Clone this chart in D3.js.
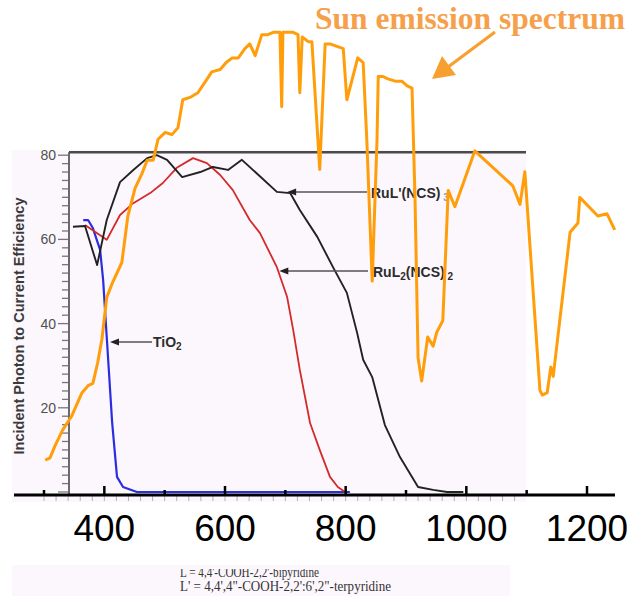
<!DOCTYPE html>
<html><head><meta charset="utf-8">
<script src="https://cdn.jsdelivr.net/npm/d3@7"></script>
<style>html,body{margin:0;padding:0;background:#fff;} svg{display:block;}</style>
</head><body>
<script>
// ---------- DATA ----------
// Sun emission spectrum (wavelength nm, relative irradiance a.u.)
const sunNm  = [302,310,318,331,346,363,373,381,389,396,404,413,429,439,451,462,471,481,489,
                501,512,522,530,542,555,568,578,592,602,612,622,633,641,650,661,671,680,691,694,696,
                713,721,724,728,738,744,757,766,774,796,802,820,829,835,844,852,854,862,870,882,893,902,910,
                915,920,926,936,945,951,961,970,981,1014,1077,1089,1097,1122,1126,1134,1140,1144,1172,1185,1188,1218,1233,1246];
const sunIrr = [0.15,0.16,0.21,0.28,0.34,0.44,0.47,0.48,0.57,0.67,0.85,0.91,1.00,1.20,1.32,1.38,1.44,1.44,1.53,
                1.56,1.55,1.58,1.70,1.71,1.73,1.78,1.82,1.83,1.86,1.88,1.88,1.92,1.94,1.89,1.98,1.98,1.99,1.99,1.67,1.99,
                1.99,1.98,1.73,1.97,1.95,1.95,1.40,1.94,1.94,1.92,1.70,1.88,1.86,1.53,0.92,1.53,1.80,1.80,1.79,1.78,1.78,1.76,1.75,
                1.27,0.59,0.49,0.68,0.64,0.70,0.75,1.31,1.24,1.48,1.33,1.25,1.39,0.45,0.43,0.44,0.55,0.51,1.13,1.17,1.28,1.20,1.21,1.14];

// IPCE curves (wavelength nm, IPCE %)
const tio2Nm   = [365,373,381,393,398,404,413,421,431,454,807];
const tio2Ipce = [64.6,64.6,62.7,57.5,50.4,36.8,16.4,3.6,1.2,0,0];

const ruL2Nm   = [368,404,426,448,476,497,520,547,570,592,613,641,658,686,703,713,724,741,757,774,787,799];
const ruL2Ipce = [63.4,59.9,65.8,68.6,71,73.4,77,79.3,78.1,75.3,71.7,64.6,61.5,53.4,46.3,38.5,29,16.4,10,3.6,1.2,0];

const ruLpNm   = [348,368,388,404,426,448,471,487,504,529,559,580,605,628,686,708,724,753,779,802,819,829,844,865,890,920,945,968,995];
const ruLpIpce = [63,63.2,53.9,64.6,73.6,76.5,79.3,80,78.9,74.8,76,77.2,76.5,78.9,71.3,71,67,60.6,53.4,47.3,37.8,31.4,27.3,15.9,8.3,1.2,0.5,0,0];

const xTicks      = [300,400,500,600,700,800,900,1000,1100,1200];
const xTickLabels = [400,600,800,1000,1200];
const yTickLabels = [20,40,60,80];

// ---------- SETUP ----------
const W=632,H=596;
const svg=d3.select("body").append("svg").attr("width",W).attr("height",H);
const x=d3.scaleLinear().domain([300,1200]).range([44,587]);
const y=d3.scaleLinear().domain([0,80]).range([492,155.2]);
const ySun=d3.scaleLinear().domain([0,2]).range([495,30]);
const SANS="'Liberation Sans', Arial, sans-serif";
const SERIF="'Liberation Serif', 'Times New Roman', serif";

const defs=svg.append("defs");
defs.append("clipPath").attr("id","panel").append("rect").attr("x",12).attr("y",150).attr("width",514).attr("height",352);
defs.append("clipPath").attr("id","cap").append("rect").attr("x",12).attr("y",569).attr("width",500).attr("height",30);

// background panels
svg.append("rect").attr("x",12).attr("y",150).attr("width",514).attr("height",352).attr("fill","#fcf7fc");
svg.append("rect").attr("x",12).attr("y",565).attr("width",498).attr("height",31).attr("fill","#fcf7fc");

const inner=svg.append("g").attr("clip-path","url(#panel)");

// y axis (inner chart)
inner.append("line").attr("x1",69).attr("x2",69).attr("y1",y(80.7)).attr("y2",496)
  .attr("stroke","#6a6a6a").attr("stroke-width",2);
const yMinor=d3.range(0,81,2);
inner.selectAll(".ytk").data(yMinor).join("line")
  .attr("x1",d=>d%20===0?58:62).attr("x2",68)
  .attr("y1",d=>y(d)).attr("y2",d=>y(d))
  .attr("stroke","#777").attr("stroke-width",1.3);
inner.selectAll(".ylb").data(yTickLabels).join("text")
  .attr("x",56).attr("y",d=>y(d)).attr("dy","0.36em").attr("text-anchor","end")
  .attr("font-family",SANS).attr("font-size",14).attr("fill","#505050").text(d=>d);
// partially hidden "0" under the axis
inner.append("text").attr("x",48).attr("y",511).attr("text-anchor","middle")
  .attr("font-family",SANS).attr("font-size",13).attr("fill","#777").text("0");
// inner minor x ticks (below axis)
inner.selectAll(".xmn").data(d3.range(300,1101,20)).join("line")
  .attr("x1",d=>x(d)).attr("x2",d=>x(d)).attr("y1",496).attr("y2",501)
  .attr("stroke","#b0b0b0").attr("stroke-width",1);

// frame top
svg.append("line").attr("x1",69).attr("x2",526).attr("y1",y(80.7)).attr("y2",y(80.7))
  .attr("stroke","#4a4a4a").attr("stroke-width",2.5);

// y title
svg.append("text").attr("transform","translate(24,326) rotate(-90)")
  .attr("text-anchor","middle").attr("font-family",SANS).attr("font-weight","bold")
  .attr("font-size",14).attr("fill","#3a3a3a")
  .attr("textLength",257).attr("lengthAdjust","spacingAndGlyphs")
  .text("Incident Photon to Current Efficiency");

// IPCE lines
const line=d3.line().x(d=>x(d[0])).y(d=>y(d[1]));
const series=[
  {nm:tio2Nm,v:tio2Ipce,c:"#2a2ee0",w:2.2},
  {nm:ruL2Nm,v:ruL2Ipce,c:"#d42a2a",w:1.8},
  {nm:ruLpNm,v:ruLpIpce,c:"#222",w:1.9}
];
series.forEach(s=>{
  svg.append("path").attr("d",line(s.nm.map((n,i)=>[n,s.v[i]])))
    .attr("fill","none").attr("stroke",s.c).attr("stroke-width",s.w).attr("stroke-linejoin","round");
});

// inner labels with arrows
function labelArrow(x1,x2,yy){
  svg.append("line").attr("x1",x1+7).attr("x2",x2).attr("y1",yy).attr("y2",yy)
    .attr("stroke","#555").attr("stroke-width",1.4);
  svg.append("path").attr("d",`M${x1},${yy} L${x1+9},${yy-3.5} L${x1+9},${yy+3.5} Z`).attr("fill","#222");
}
labelArrow(x(703),367,192);
labelArrow(x(690),368,271);
labelArrow(110,152,342);

function rich(xp,yp,parts){
  const t=svg.append("text").attr("x",xp).attr("y",yp).attr("font-family",SANS)
    .attr("font-weight","bold").attr("font-size",14).attr("fill","#2c2c2c");
  parts.forEach(p=>{
    const ts=t.append("tspan").text(p.t);
    if(p.sub){ts.attr("font-size",10).attr("dy",3);} else if(p.back){ts.attr("dy",-3);}
    if(p.fill) ts.attr("fill",p.fill);
  });
}
rich(371,198,[{t:"RuL'(NCS)"},{t:" 3",sub:true,fill:"#999"}]);
rich(373,277,[{t:"RuL"},{t:"2",sub:true},{t:"(NCS)",back:true},{t:" 2",sub:true}]);
rich(153,347,[{t:"TiO"},{t:"2",sub:true}]);

// sun spectrum
const sunLine=d3.line().x(d=>x(d[0])).y(d=>ySun(d[1]));
svg.append("path").attr("d",sunLine(sunNm.map((n,i)=>[n,sunIrr[i]])))
  .attr("fill","none").attr("stroke","#ff9e0a").attr("stroke-width",3).attr("stroke-linejoin","round");

// main x axis
svg.append("line").attr("x1",14).attr("x2",615).attr("y1",495).attr("y2",495)
  .attr("stroke","#000").attr("stroke-width",3);
svg.selectAll(".xtk").data(xTicks).join("line")
  .attr("x1",d=>x(d)).attr("x2",d=>x(d)).attr("y1",495)
  .attr("y2",d=>xTickLabels.includes(d)?486:490)
  .attr("stroke","#000").attr("stroke-width",2.5);
svg.selectAll(".xlb").data(xTickLabels).join("text")
  .attr("x",d=>x(d)).attr("y",541).attr("text-anchor","middle")
  .attr("font-family",SANS).attr("font-size",37).attr("fill","#000").text(d=>d);

// captions
svg.append("text").attr("x",180).attr("y",577).attr("clip-path","url(#cap)")
  .attr("font-family",SERIF).attr("font-size",14).attr("fill","#333")
  .attr("textLength",139).attr("lengthAdjust","spacingAndGlyphs")
  .text("L = 4,4'-COOH-2,2'-bipyridine");
svg.append("text").attr("x",180).attr("y",591)
  .attr("font-family",SERIF).attr("font-size",14).attr("fill","#333")
  .attr("textLength",211).attr("lengthAdjust","spacingAndGlyphs")
  .text("L' = 4,4',4\"-COOH-2,2':6',2\"-terpyridine");

// title + arrow
svg.append("text").attr("x",315).attr("y",29).attr("font-family",SERIF).attr("font-weight","bold")
  .attr("font-size",31).attr("fill","#f6a04c")
  .attr("textLength",310).attr("lengthAdjust","spacingAndGlyphs")
  .text("Sun emission spectrum");
svg.append("line").attr("x1",495).attr("y1",32).attr("x2",444).attr("y2",70)
  .attr("stroke","#f7a030").attr("stroke-width",3.2);
svg.append("path").attr("d","M432,79 L442,56 L456,75 Z").attr("fill","#f7a030");
</script>
</body></html>
